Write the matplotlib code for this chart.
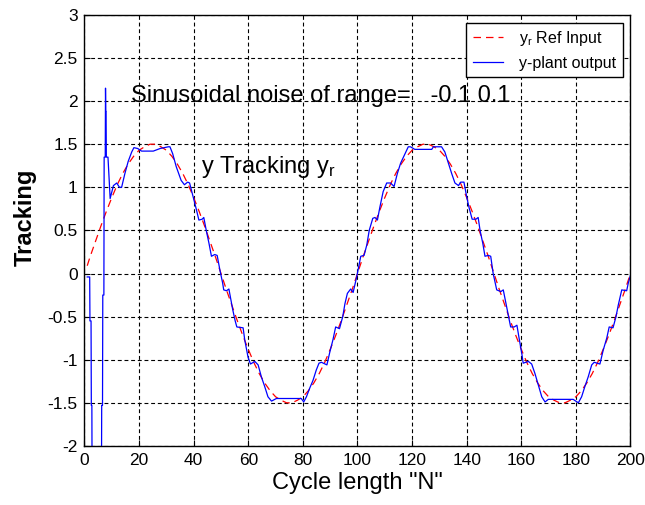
import matplotlib
matplotlib.use("Agg")
import matplotlib.pyplot as plt
from matplotlib.ticker import FormatStrFormatter, MultipleLocator

plt.rcParams['font.family'] = ['Liberation Sans', 'DejaVu Sans']
plt.rcParams['mathtext.default'] = 'regular'
plt.rcParams['axes.unicode_minus'] = False

# reference input y_r
ref_x = [1] + list(range(2, 201, 2))
ref_y = [0.09,
         0.19, 0.37, 0.55, 0.72, 0.88, 1.03, 1.16, 1.27, 1.36, 1.43,
         1.47, 1.50, 1.50, 1.47, 1.43, 1.36, 1.27, 1.16, 1.03, 0.88,
         0.72, 0.55, 0.37, 0.19, 0.00, -0.19, -0.37, -0.55, -0.72, -0.88,
         -1.03, -1.16, -1.27, -1.36, -1.43, -1.47, -1.50, -1.50, -1.47, -1.43,
         -1.36, -1.27, -1.16, -1.03, -0.88, -0.72, -0.55, -0.37, -0.19, 0.00,
         0.19, 0.37, 0.55, 0.72, 0.88, 1.03, 1.16, 1.27, 1.36, 1.43,
         1.47, 1.50, 1.50, 1.47, 1.43, 1.36, 1.27, 1.16, 1.03, 0.88,
         0.72, 0.55, 0.37, 0.19, 0.00, -0.19, -0.37, -0.55, -0.72, -0.88,
         -1.03, -1.16, -1.27, -1.36, -1.43, -1.47, -1.50, -1.50, -1.47, -1.43,
         -1.36, -1.27, -1.16, -1.03, -0.88, -0.72, -0.55, -0.37, -0.19, 0.00]

# plant output y (breakpoints)
out_x = [1.0, 1.9, 2.0, 2.4, 2.5, 2.7, 2.8, 6.2, 6.3, 6.6, 6.7, 7.1, 7.2, 7.6,
         7.7, 7.8, 7.9, 8.0, 8.6, 9.4, 10.6, 11.8, 12.8, 13.6, 14.8, 16.0,
         17.3, 18.1, 19.5, 20.9, 25.2, 27.7, 30.7, 31.3, 32.3, 33.6, 35.4,
         36.6, 37.8, 38.5, 39.8, 41.0, 41.9, 43.1, 43.7, 44.6, 45.6, 46.5,
         47.7, 48.6, 49.6, 50.6, 51.0, 52.0, 52.9, 53.5, 54.3, 55.2, 55.8,
         58.1, 58.7, 59.9, 60.8, 62.4, 63.6, 64.8, 66.0, 67.2, 68.5, 70.3,
         79.4, 80.3, 81.3, 82.5, 83.7, 84.9, 85.9, 86.8, 88.8, 89.8, 91.0,
         92.0, 93.4, 94.6, 95.4, 96.3, 97.5, 98.4, 99.7, 100.7, 101.2, 102.4,
         103.4, 104.3, 105.6, 106.4, 107.3, 108.2, 109.4, 110.7, 112.1, 113.4,
         114.6, 115.8, 117.4, 118.6, 119.4, 121.0, 127.2, 127.8, 130.8, 132.0,
         133.3, 134.5, 135.7, 137.0, 137.8, 139.0, 140.0, 140.9, 142.0, 143.4,
         144.2, 144.9, 145.9, 146.7, 147.9, 148.8, 149.7, 151.0, 152.5, 153.4,
         154.4, 155.3, 156.1, 157.4, 158.4, 159.3, 160.2, 160.7, 162.6, 163.8,
         165.0, 166.2, 167.5, 168.7, 169.9, 179.0, 180.9, 182.1, 183.3, 184.5,
         185.8, 186.7, 188.8, 190.0, 191.3, 192.2, 193.6, 194.7, 195.5, 196.8,
         198.6, 199.2, 200.0]
out_y = [-0.04, -0.04, -0.55, -0.55, -1.53, -1.53, -2.6, -2.6, -1.53, -1.53,
         -0.25, -0.25, 1.35, 1.35, 2.15, 1.88, 1.88, 1.35, 1.35, 0.87, 1.02,
         1.05, 1.00, 1.00, 1.16, 1.30, 1.41, 1.46, 1.45, 1.42, 1.42, 1.45,
         1.47, 1.47, 1.39, 1.24, 1.08, 1.03, 1.06, 1.05, 0.89, 0.74, 0.62,
         0.63, 0.65, 0.50, 0.35, 0.20, 0.22, 0.21, 0.04, -0.11, -0.19, -0.20,
         -0.18, -0.28, -0.42, -0.55, -0.62, -0.63, -0.77, -0.97, -1.05, -1.02,
         -1.06, -1.20, -1.31, -1.43, -1.48, -1.45, -1.45, -1.49, -1.43, -1.33,
         -1.24, -1.12, -1.04, -1.03, -1.06, -0.92, -0.77, -0.62, -0.64, -0.50,
         -0.35, -0.23, -0.18, -0.22, -0.04, 0.12, 0.20, 0.21, 0.33, 0.50, 0.64,
         0.65, 0.62, 0.77, 0.95, 1.05, 1.05, 1.01, 1.16, 1.28, 1.39, 1.47,
         1.47, 1.44, 1.44, 1.47, 1.47, 1.41, 1.28, 1.16, 1.05, 1.02, 1.06,
         1.06, 0.89, 0.76, 0.63, 0.63, 0.65, 0.50, 0.35, 0.20, 0.21, 0.20,
         0.00, -0.19, -0.21, -0.19, -0.35, -0.50, -0.62, -0.62, -0.60, -0.77,
         -0.93, -1.04, -1.02, -1.05, -1.16, -1.29, -1.43, -1.49, -1.46, -1.46,
         -1.50, -1.43, -1.31, -1.20, -1.06, -1.03, -1.05, -0.89, -0.75, -0.62,
         -0.63, -0.50, -0.37, -0.19, -0.20, -0.11, -0.02]

fig = plt.figure(figsize=(6.45, 5.05), dpi=100)
ax = fig.add_axes([0.131, 0.117, 0.8465, 0.8535])

ax.plot(ref_x, ref_y, color='#ff0000', linestyle=(0, (6, 4)), linewidth=0.9,
        label='y$_r$ Ref Input')
ax.plot(out_x, out_y, color='#0000ff', linewidth=0.9, label='y-plant output')

ax.set_xlim(0, 200)
ax.set_ylim(-2, 3)
ax.xaxis.set_major_locator(MultipleLocator(20))
ax.yaxis.set_major_locator(MultipleLocator(0.5))
ax.yaxis.set_major_formatter(FormatStrFormatter('%g'))
ax.tick_params(direction='in', length=4, labelsize=12.5, pad=5, colors='k')
ax.grid(True, color='k', linestyle=(0, (3.5, 2.5)), linewidth=0.8)
for sp in ax.spines.values():
    sp.set_linewidth(1.0)

ax.set_xlabel('Cycle length "N"', fontsize=17, labelpad=3)
ax.set_ylabel('Tracking', fontsize=17, fontweight='bold')
ax.yaxis.set_label_coords(-0.087, 0.53)

ax.text(17.2, 2.06, 'Sinusoidal noise of range=   -0.1 0.1', fontsize=17,
        va='center', ha='left')
ax.text(42.7, 1.23, 'y Tracking y$_r$', fontsize=17, va='center', ha='left')

leg = ax.legend(loc='upper right', bbox_to_anchor=(0.9857, 0.982),
                borderaxespad=0, fontsize=11.5, fancybox=False, framealpha=1,
                edgecolor='k', handlelength=1.9, handletextpad=1.0)
leg.get_frame().set_linewidth(1.0)

fig.savefig('out.png', dpi=100)
